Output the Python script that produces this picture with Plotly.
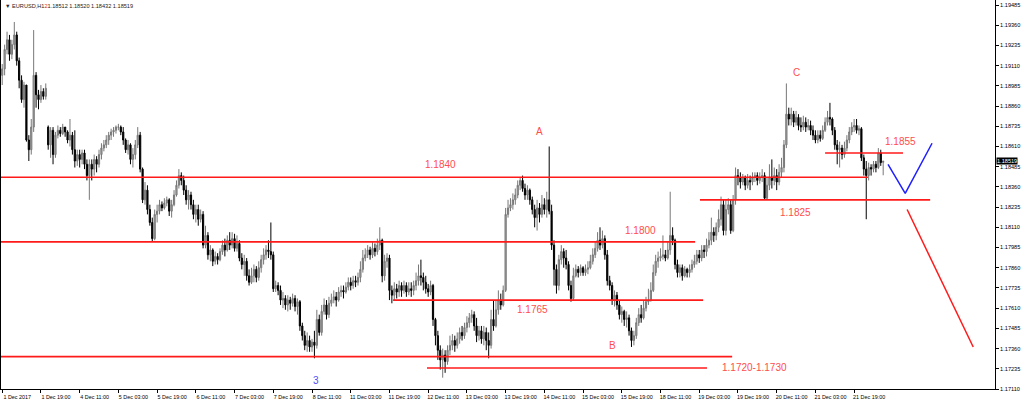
import plotly.graph_objects as go

# ---------------- data (EURUSD H1) ----------------
opens = [
1.1905,1.1909,1.1921,1.1927,1.1918,1.1924,1.1930,1.1914,1.1902,1.1890,
1.1899,1.1865,1.1859,1.1873,1.1905,1.1893,1.1890,1.1895,1.1892,1.1873,
1.1862,1.1871,1.1856,1.1868,1.1871,1.1869,1.1873,1.1870,1.1865,1.1868,
1.1859,1.1852,1.1856,1.1853,1.1857,1.1850,1.1843,1.1850,1.1847,1.1853,
1.1850,1.1856,1.1860,1.1862,1.1865,1.1868,1.1870,1.1871,1.1873,1.1873,
1.1870,1.1865,1.1859,1.1862,1.1853,1.1856,1.1862,1.1868,1.1847,1.1828,
1.1834,1.1822,1.1814,1.1804,1.1819,1.1821,1.1825,1.1823,1.1826,1.1828,
1.1821,1.1825,1.1831,1.1837,1.1843,1.1840,1.1834,1.1828,1.1831,1.1825,
1.1819,1.1822,1.1816,1.1819,1.1800,1.1806,1.1794,1.1797,1.1790,1.1793,
1.1791,1.1796,1.1800,1.1797,1.1803,1.1800,1.1804,1.1798,1.1801,1.1792,
1.1788,1.1790,1.1781,1.1777,1.1781,1.1785,1.1780,1.1786,1.1791,1.1794,
1.1797,1.1796,1.1794,1.1773,1.1775,1.1772,1.1766,1.1767,1.1763,1.1766,
1.1764,1.1767,1.1762,1.1765,1.1750,1.1744,1.1738,1.1741,1.1737,1.1740,
1.1738,1.1754,1.1746,1.1759,1.1763,1.1757,1.1764,1.1766,1.1768,1.1766,
1.1771,1.1772,1.1771,1.1774,1.1777,1.1775,1.1778,1.1777,1.1780,1.1785,
1.1792,1.1794,1.1797,1.1794,1.1798,1.1796,1.1800,1.1803,1.1781,1.1790,
1.1792,1.1772,1.1769,1.1773,1.1771,1.1775,1.1772,1.1775,1.1771,1.1773,
1.1772,1.1775,1.1778,1.1781,1.1780,1.1777,1.1773,1.1771,1.1775,1.1754,
1.1744,1.1735,1.1729,1.1732,1.1728,1.1735,1.1738,1.1741,1.1738,1.1742,
1.1746,1.1744,1.1749,1.1752,1.1755,1.1757,1.1750,1.1744,1.1747,1.1742,
1.1746,1.1741,1.1738,1.1754,1.1750,1.1760,1.1766,1.1763,1.1772,1.1819,
1.1823,1.1825,1.1828,1.1831,1.1837,1.1840,1.1835,1.1831,1.1834,1.1828,
1.1822,1.1817,1.1823,1.1819,1.1825,1.1822,1.1828,1.1821,1.1800,1.1785,
1.1775,1.1791,1.1796,1.1792,1.1788,1.1775,1.1767,1.1781,1.1785,1.1783,
1.1786,1.1783,1.1785,1.1786,1.1790,1.1794,1.1798,1.1803,1.1800,1.1804,
1.1794,1.1778,1.1775,1.1766,1.1769,1.1763,1.1757,1.1759,1.1754,1.1755,
1.1747,1.1741,1.1744,1.1752,1.1757,1.1755,1.1761,1.1765,1.1766,1.1772,
1.1783,1.1790,1.1792,1.1793,1.1794,1.1792,1.1797,1.1806,1.1803,1.1788,
1.1783,1.1786,1.1781,1.1785,1.1783,1.1785,1.1788,1.1790,1.1794,1.1792,
1.1797,1.1796,1.1800,1.1803,1.1808,1.1806,1.1811,1.1816,1.1825,1.1809,
1.1822,1.1825,1.1809,1.1828,1.1843,1.1842,1.1839,1.1842,1.1837,1.1840,
1.1839,1.1842,1.1843,1.1840,1.1842,1.1843,1.1829,1.1837,1.1842,1.1840,
1.1843,1.1839,1.1845,1.1848,1.1862,1.1881,1.1878,1.1881,1.1876,1.1879,
1.1874,1.1873,1.1876,1.1873,1.1874,1.1871,1.1868,1.1865,1.1868,1.1866,
1.1871,1.1876,1.1879,1.1878,1.1871,1.1862,1.1859,1.1860,1.1856,1.1860,
1.1865,1.1870,1.1873,1.1874,1.1871,1.1872,1.1854,1.1847,1.1843,1.1848,
1.1847,1.1850,1.1848,1.1857,1.18512]

highs = [
1.1912,1.1924,1.1932,1.1930,1.1927,1.1938,1.1932,1.1916,1.1905,1.1901,
1.1899,1.1868,1.1878,1.1933,1.1907,1.1896,1.1899,1.1897,1.1900,1.1874,
1.1873,1.1873,1.1870,1.1874,1.1873,1.1875,1.1873,1.1871,1.1878,1.1870,
1.1871,1.1859,1.1859,1.1859,1.1859,1.1853,1.1853,1.1853,1.1856,1.1855,
1.1859,1.1863,1.1865,1.1868,1.1870,1.1872,1.1873,1.1874,1.1875,1.1874,
1.1873,1.1866,1.1865,1.1863,1.1860,1.1865,1.1873,1.1870,1.1848,1.1839,
1.1837,1.1825,1.1817,1.1822,1.1825,1.1828,1.1827,1.1829,1.1830,1.1829,
1.1828,1.1834,1.1840,1.1847,1.1845,1.1843,1.1837,1.1834,1.1833,1.1828,
1.1825,1.1825,1.1822,1.1821,1.1812,1.1808,1.1800,1.1798,1.1796,1.1795,
1.1798,1.1803,1.1804,1.1806,1.1808,1.1808,1.1807,1.1806,1.1803,1.1795,
1.1794,1.1792,1.1785,1.1786,1.1788,1.1787,1.1790,1.1794,1.1798,1.1800,
1.1803,1.1814,1.1796,1.1778,1.1777,1.1775,1.1771,1.1769,1.1769,1.1768,
1.1770,1.1769,1.1767,1.1766,1.1752,1.1747,1.1746,1.1744,1.1742,1.1747,
1.1760,1.1757,1.1763,1.1767,1.1766,1.1768,1.1770,1.1772,1.1771,1.1774,
1.1775,1.1775,1.1777,1.1780,1.1780,1.1781,1.1781,1.1783,1.1790,1.1797,
1.1798,1.1800,1.1799,1.1802,1.1801,1.1804,1.1811,1.1804,1.1794,1.1795,
1.1794,1.1775,1.1777,1.1776,1.1778,1.1777,1.1778,1.1777,1.1777,1.1777,
1.1778,1.1783,1.1788,1.1791,1.1783,1.1781,1.1776,1.1778,1.1776,1.1755,
1.1747,1.1738,1.1736,1.1735,1.1738,1.1744,1.1745,1.1744,1.1746,1.1749,
1.1750,1.1752,1.1756,1.1758,1.1760,1.1759,1.1755,1.1750,1.1750,1.1750,
1.1749,1.1746,1.1760,1.1766,1.1766,1.1772,1.1770,1.1775,1.1823,1.1828,
1.1829,1.1832,1.1835,1.1840,1.1842,1.1843,1.1838,1.1837,1.1835,1.1830,
1.1825,1.1828,1.1826,1.1831,1.1829,1.1833,1.1861,1.1825,1.1803,1.1788,
1.1794,1.1800,1.1798,1.1797,1.1790,1.1778,1.1786,1.1788,1.1787,1.1788,
1.1787,1.1788,1.1790,1.1794,1.1798,1.1802,1.1808,1.1811,1.1809,1.1806,
1.1797,1.1781,1.1777,1.1772,1.1771,1.1766,1.1762,1.1760,1.1759,1.1757,
1.1749,1.1747,1.1755,1.1761,1.1763,1.1766,1.1768,1.1773,1.1777,1.1788,
1.1794,1.1796,1.1798,1.1806,1.1797,1.1802,1.1833,1.1811,1.1804,1.1791,
1.1788,1.1788,1.1787,1.1786,1.1788,1.1791,1.1794,1.1797,1.1797,1.1800,
1.1800,1.1804,1.1808,1.1817,1.1811,1.1814,1.1822,1.1830,1.1828,1.1828,
1.1829,1.1828,1.1831,1.1848,1.1847,1.1845,1.1844,1.1843,1.1844,1.1843,
1.1845,1.1845,1.1845,1.1845,1.1847,1.1845,1.1842,1.1850,1.1853,1.1848,
1.1847,1.1850,1.1854,1.1865,1.1900,1.1885,1.1885,1.1883,1.1883,1.1881,
1.1879,1.1880,1.1879,1.1878,1.1877,1.1874,1.1871,1.1871,1.1871,1.1874,
1.1879,1.1883,1.1888,1.1879,1.1873,1.1865,1.1864,1.1862,1.1864,1.1868,
1.1873,1.1876,1.1878,1.1878,1.1874,1.1873,1.1856,1.1852,1.1851,1.1850,
1.1852,1.1852,1.1860,1.1859,1.18520]

lows = [
1.1899,1.1905,1.1918,1.1914,1.1915,1.1921,1.1911,1.1897,1.1888,1.1885,
1.1864,1.1852,1.1856,1.1870,1.1885,1.1884,1.1888,1.1890,1.1890,1.1859,
1.1854,1.1850,1.1854,1.1866,1.1867,1.1868,1.1867,1.1863,1.1861,1.1856,
1.1848,1.1849,1.1848,1.1850,1.1847,1.1840,1.1828,1.1840,1.1843,1.1845,
1.1848,1.1853,1.1858,1.1860,1.1862,1.1865,1.1867,1.1869,1.1871,1.1868,
1.1862,1.1857,1.1856,1.1850,1.1848,1.1853,1.1860,1.1845,1.1826,1.1825,
1.1819,1.1812,1.1802,1.1803,1.1814,1.1819,1.1821,1.1822,1.1824,1.1818,
1.1817,1.1824,1.1830,1.1835,1.1837,1.1831,1.1825,1.1822,1.1822,1.1816,
1.1814,1.1812,1.1814,1.1798,1.1798,1.1791,1.1790,1.1787,1.1788,1.1788,
1.1790,1.1794,1.1793,1.1796,1.1797,1.1798,1.1796,1.1796,1.1790,1.1785,
1.1781,1.1778,1.1775,1.1776,1.1777,1.1777,1.1778,1.1783,1.1788,1.1791,
1.1792,1.1791,1.1771,1.1771,1.1769,1.1763,1.1761,1.1760,1.1759,1.1760,
1.1762,1.1759,1.1757,1.1747,1.1741,1.1735,1.1734,1.1734,1.1734,1.1730,
1.1736,1.1744,1.1744,1.1757,1.1754,1.1755,1.1762,1.1764,1.1762,1.1765,
1.1768,1.1767,1.1770,1.1772,1.1772,1.1773,1.1774,1.1775,1.1777,1.1783,
1.1790,1.1792,1.1791,1.1792,1.1793,1.1794,1.1797,1.1777,1.1778,1.1786,
1.1766,1.1764,1.1766,1.1767,1.1768,1.1768,1.1770,1.1768,1.1769,1.1768,
1.1769,1.1772,1.1775,1.1775,1.1772,1.1770,1.1768,1.1769,1.1750,1.1738,
1.1729,1.1723,1.1718,1.1721,1.1726,1.1732,1.1735,1.1734,1.1736,1.1739,
1.1741,1.1742,1.1746,1.1749,1.1752,1.1747,1.1740,1.1741,1.1739,1.1738,
1.1735,1.1730,1.1736,1.1747,1.1749,1.1757,1.1760,1.1762,1.1771,1.1817,
1.1821,1.1822,1.1825,1.1829,1.1834,1.1833,1.1828,1.1828,1.1825,1.1819,
1.1811,1.1809,1.1814,1.1817,1.1819,1.1817,1.1819,1.1797,1.1775,1.1770,
1.1772,1.1788,1.1786,1.1785,1.1772,1.1765,1.1766,1.1780,1.1780,1.1781,
1.1781,1.1781,1.1782,1.1785,1.1788,1.1792,1.1796,1.1797,1.1798,1.1791,
1.1775,1.1772,1.1763,1.1762,1.1760,1.1754,1.1752,1.1750,1.1749,1.1744,
1.1737,1.1738,1.1742,1.1750,1.1752,1.1754,1.1759,1.1763,1.1765,1.1771,
1.1781,1.1786,1.1790,1.1791,1.1790,1.1791,1.1794,1.1800,1.1785,1.1780,
1.1780,1.1778,1.1780,1.1780,1.1780,1.1783,1.1786,1.1788,1.1789,1.1790,
1.1792,1.1793,1.1798,1.1800,1.1802,1.1803,1.1808,1.1812,1.1806,1.1806,
1.1819,1.1807,1.1808,1.1825,1.1837,1.1835,1.1837,1.1834,1.1835,1.1834,
1.1837,1.1839,1.1837,1.1838,1.1839,1.1828,1.1828,1.1834,1.1835,1.1837,
1.1834,1.1837,1.1842,1.1845,1.1860,1.1874,1.1874,1.1873,1.1874,1.1871,
1.1870,1.1871,1.1870,1.1871,1.1868,1.1865,1.1863,1.1863,1.1864,1.1865,
1.1870,1.1874,1.1874,1.1868,1.1859,1.1850,1.1848,1.1853,1.1854,1.1858,
1.1863,1.1868,1.1870,1.1869,1.1868,1.1852,1.1843,1.1816,1.1840,1.1843,
1.1845,1.1845,1.1847,1.1849,1.18432]

closes = [
1.1909,1.1921,1.1927,1.1918,1.1924,1.1930,1.1914,1.1902,1.1890,1.1899,
1.1865,1.1859,1.1873,1.1905,1.1893,1.1890,1.1895,1.1892,1.1897,1.1862,
1.1871,1.1856,1.1868,1.1871,1.1869,1.1873,1.1870,1.1865,1.1868,1.1859,
1.1852,1.1856,1.1853,1.1857,1.1850,1.1843,1.1850,1.1847,1.1853,1.1850,
1.1856,1.1860,1.1862,1.1865,1.1868,1.1870,1.1871,1.1873,1.1873,1.1870,
1.1865,1.1859,1.1862,1.1853,1.1856,1.1862,1.1868,1.1847,1.1828,1.1834,
1.1822,1.1814,1.1804,1.1819,1.1821,1.1825,1.1823,1.1826,1.1828,1.1821,
1.1825,1.1831,1.1837,1.1843,1.1840,1.1834,1.1828,1.1831,1.1825,1.1819,
1.1822,1.1816,1.1819,1.1800,1.1806,1.1794,1.1797,1.1790,1.1793,1.1791,
1.1796,1.1800,1.1797,1.1803,1.1800,1.1804,1.1798,1.1801,1.1792,1.1788,
1.1790,1.1781,1.1777,1.1781,1.1785,1.1780,1.1786,1.1791,1.1794,1.1797,
1.1796,1.1794,1.1773,1.1775,1.1772,1.1766,1.1767,1.1763,1.1766,1.1764,
1.1767,1.1762,1.1765,1.1750,1.1744,1.1738,1.1741,1.1737,1.1740,1.1738,
1.1754,1.1746,1.1759,1.1763,1.1757,1.1764,1.1766,1.1768,1.1766,1.1771,
1.1772,1.1771,1.1774,1.1777,1.1775,1.1778,1.1777,1.1780,1.1785,1.1792,
1.1794,1.1797,1.1794,1.1798,1.1796,1.1800,1.1803,1.1781,1.1790,1.1792,
1.1772,1.1769,1.1773,1.1771,1.1775,1.1772,1.1775,1.1771,1.1773,1.1772,
1.1775,1.1778,1.1781,1.1780,1.1777,1.1773,1.1771,1.1775,1.1754,1.1744,
1.1735,1.1729,1.1732,1.1728,1.1735,1.1738,1.1741,1.1738,1.1742,1.1746,
1.1744,1.1749,1.1752,1.1755,1.1757,1.1750,1.1744,1.1747,1.1742,1.1746,
1.1741,1.1738,1.1754,1.1750,1.1760,1.1766,1.1763,1.1772,1.1819,1.1823,
1.1825,1.1828,1.1831,1.1837,1.1840,1.1835,1.1831,1.1834,1.1828,1.1822,
1.1817,1.1823,1.1819,1.1825,1.1822,1.1828,1.1821,1.1800,1.1785,1.1775,
1.1791,1.1796,1.1792,1.1788,1.1775,1.1767,1.1781,1.1785,1.1783,1.1786,
1.1783,1.1785,1.1786,1.1790,1.1794,1.1798,1.1803,1.1800,1.1804,1.1794,
1.1778,1.1775,1.1766,1.1769,1.1763,1.1757,1.1759,1.1754,1.1755,1.1747,
1.1741,1.1744,1.1752,1.1757,1.1755,1.1761,1.1765,1.1766,1.1772,1.1783,
1.1790,1.1792,1.1793,1.1794,1.1792,1.1797,1.1806,1.1803,1.1788,1.1783,
1.1786,1.1781,1.1785,1.1783,1.1785,1.1788,1.1790,1.1794,1.1792,1.1797,
1.1796,1.1800,1.1803,1.1808,1.1806,1.1811,1.1816,1.1825,1.1809,1.1822,
1.1825,1.1809,1.1828,1.1843,1.1842,1.1839,1.1842,1.1837,1.1840,1.1839,
1.1842,1.1843,1.1840,1.1842,1.1843,1.1829,1.1837,1.1842,1.1840,1.1843,
1.1839,1.1845,1.1848,1.1862,1.1881,1.1878,1.1881,1.1876,1.1879,1.1874,
1.1873,1.1876,1.1873,1.1874,1.1871,1.1868,1.1865,1.1868,1.1866,1.1871,
1.1876,1.1879,1.1878,1.1871,1.1862,1.1859,1.1860,1.1856,1.1860,1.1865,
1.1870,1.1873,1.1874,1.1871,1.1872,1.1854,1.1847,1.1843,1.1848,1.1847,
1.1850,1.1848,1.1857,1.1851,1.18519]

# time-axis labels (one every 16 H1 bars)
time_labels = ["1 Dec 2017", "1 Dec 19:00", "4 Dec 11:00", "5 Dec 03:00", "5 Dec 19:00",
               "6 Dec 11:00", "7 Dec 03:00", "7 Dec 19:00", "8 Dec 11:00", "11 Dec 03:00",
               "11 Dec 19:00", "12 Dec 11:00", "13 Dec 03:00", "13 Dec 19:00", "14 Dec 11:00",
               "15 Dec 03:00", "15 Dec 19:00", "18 Dec 11:00", "19 Dec 03:00", "19 Dec 19:00",
               "20 Dec 11:00", "21 Dec 03:00", "21 Dec 19:00"]
label_bars = [0, 16, 32, 48, 64, 80, 96, 112, 128, 144, 160, 176, 192, 208, 224,
              240, 256, 272, 288, 304, 320, 336, 352]

# horizontal support / resistance levels drawn by the analyst
level_prices = [1.1842, 1.1802, 1.1766, 1.1731, 1.1724, 1.1828, 1.1857]
level_start = [-0.5, -0.5, 161.5, -0.5, 175.5, 288.3, 340.0]
level_end = [357.7, 286.3, 289.6, 301.6, 291.2, 383.4, 372.2]

# level captions
caption_text = ["1.1840", "1.1800", "1.1765", "1.1825", "1.1855"]
caption_bar = [180.9, 263.6, 219.3, 327.6, 371.0]
caption_price = [1.1850, 1.1809, 1.1760, 1.1820, 1.1864]

# wave labels
wave_text = ["A", "B", "C"]
wave_bar = [222.2, 252.0, 328.0]
wave_price = [1.1870, 1.1738, 1.1907]

# projected paths
blue_bar = [366.0, 373.1, 384.2]
blue_price = [1.1850, 1.1832, 1.1863]
red_bar = [373.9, 401.2]
red_price = [1.1822, 1.1737]

y_min, y_max = 1.17110, 1.19516
x_min, x_max = -0.5, 410.2
last_price = closes[-1]

bars = list(range(len(closes)))

fig = go.Figure()
fig.add_trace(go.Candlestick(
    x=bars, open=opens, high=highs, low=lows, close=closes,
    increasing=dict(line=dict(color="#777777", width=1), fillcolor="#a9a9a9"),
    decreasing=dict(line=dict(color="#000000", width=1), fillcolor="#000000"),
    whiskerwidth=0, hoverinfo="skip", showlegend=False))

for p, a, b in zip(level_prices, level_start, level_end):
    fig.add_shape(type="line", xref="x", yref="y", x0=a, x1=b, y0=p, y1=p,
                  line=dict(color="#ff1a1a", width=1.6))

fig.add_trace(go.Scatter(x=blue_bar, y=blue_price, mode="lines",
                         line=dict(color="#1f1fff", width=1.5), hoverinfo="skip", showlegend=False))
fig.add_trace(go.Scatter(x=red_bar, y=red_price, mode="lines",
                         line=dict(color="#ff1a1a", width=1.5), hoverinfo="skip", showlegend=False))

txt_font = dict(family="Liberation Sans, Arial, sans-serif", size=10, color="#ff4d4d")
for t, xb, yp in zip(caption_text, caption_bar, caption_price):
    fig.add_annotation(x=xb, y=yp, text=t, showarrow=False, font=txt_font)
for t, xb, yp in zip(wave_text, wave_bar, wave_price):
    fig.add_annotation(x=xb, y=yp, text=t, showarrow=False, font=txt_font)
fig.add_annotation(x=296.6, y=1.17245, text="1.1720-1.1730", showarrow=False,
                   xanchor="left", font=txt_font)
fig.add_annotation(x=129.7, y=1.1716, text="3", showarrow=False,
                   font=dict(family="Liberation Sans, Arial, sans-serif", size=10, color="#4d4dff"))

# header line
fig.add_annotation(xref="paper", yref="paper", x=0, y=1, xanchor="left", yanchor="top",
                   xshift=2, yshift=-1, showarrow=False,
                   text="▼ EURUSD,H1<span style='color:#ff2020'>2</span>1.18512 1.18520 1.18432 1.18519",
                   font=dict(family="Liberation Sans, Arial, sans-serif", size=5.6, color="#222222"))

# current price box on the price scale
fig.add_annotation(xref="paper", yref="y", x=1, y=last_price, xanchor="left", xshift=1,
                   showarrow=False, text=f"{last_price:.5f}", bgcolor="#000000", borderpad=0,
                   font=dict(family="Liberation Sans, Arial, sans-serif", size=5.6, color="#ffffff"))

fig.update_layout(
    width=1024, height=403,
    margin=dict(l=1, r=29, t=0, b=14),
    paper_bgcolor="#ffffff", plot_bgcolor="#ffffff",
    font=dict(family="Liberation Sans, Arial, sans-serif", size=6, color="#000000"),
    showlegend=False,
    hovermode=False,
    xaxis=dict(range=[x_min, x_max], tickvals=label_bars, ticktext=time_labels,
               ticks="outside", ticklen=3, tickcolor="#000000", showline=True,
               linecolor="#000000", linewidth=1, showgrid=False, zeroline=False,
               tickfont=dict(size=5.4, color="#000000"), ticklabelshift=15,
               rangeslider=dict(visible=False)),
    yaxis=dict(side="right", range=[y_min, y_max], tick0=1.17110, dtick=0.00125,
               tickformat=".5f", ticks="outside", ticklen=3, tickcolor="#000000",
               showline=True, mirror=True, linecolor="#000000", linewidth=1,
               showgrid=False, zeroline=False, tickfont=dict(size=5.6, color="#000000")),
)

fig.write_html("out.html", config={"displayModeBar": False, "staticPlot": True},
               post_script="document.body.style.margin='0px';document.body.style.overflow='hidden';")
